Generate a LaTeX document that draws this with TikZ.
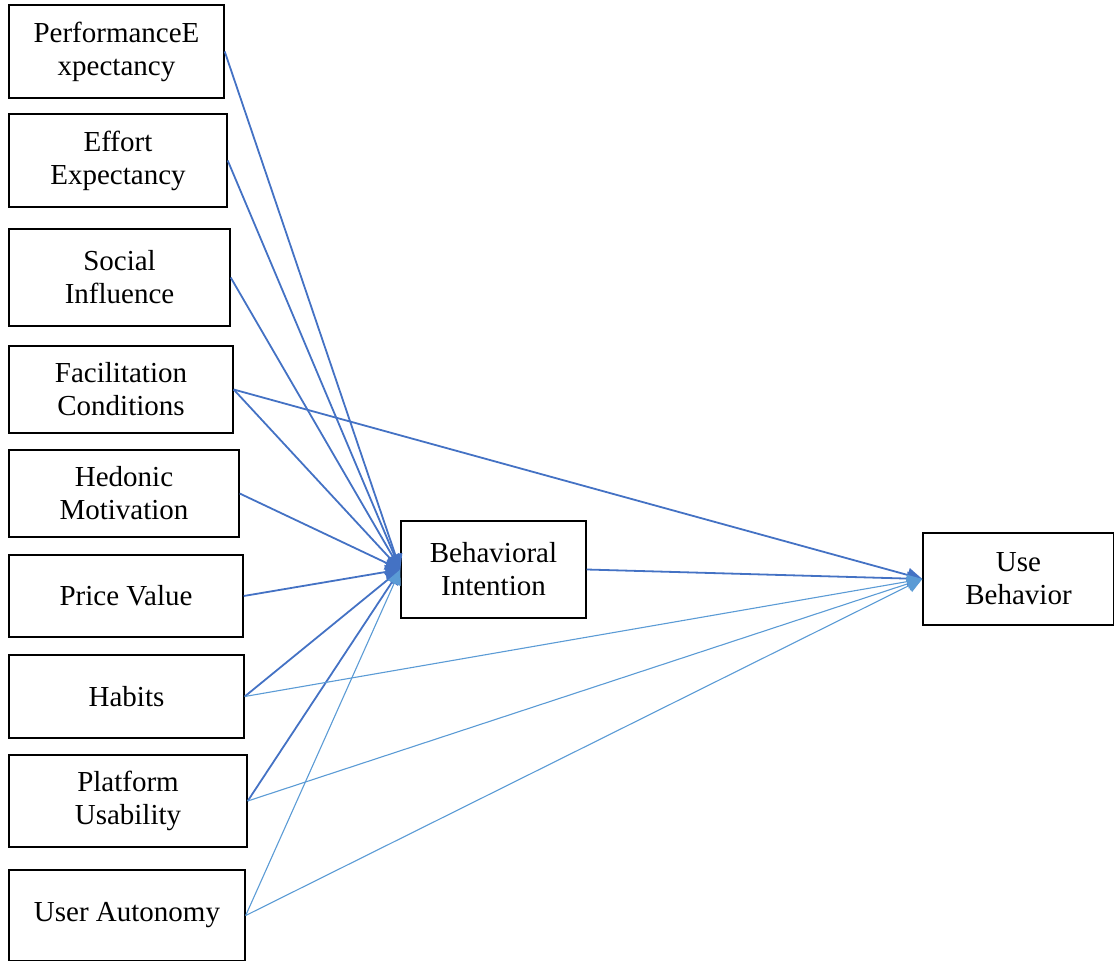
\documentclass[tikz,border=0pt]{standalone}
\usepackage{fontspec}
\setmainfont{Liberation Serif}
\usetikzlibrary{arrows.meta}
\definecolor{dkblue}{HTML}{4472C4}
\definecolor{ltblue}{HTML}{5B9BD5}
\begin{document}
\begin{tikzpicture}[x=1pt,y=-1pt,
  box/.style={draw=black, line width=1.4pt, inner sep=0pt, align=center,
    font=\fontsize{29}{33}\selectfont},
  dk/.style={draw=dkblue, line width=1.8pt, -{Triangle[length=15pt,width=14pt]}},
  lt/.style={draw=ltblue, line width=1.1pt, -{Triangle[length=15pt,width=14pt]}}]
\useasboundingbox (0,0) rectangle (1114,961);
\node[box, minimum width=215pt, minimum height=93pt] (pe) at (116.5,51.5) {PerformanceE\\xpectancy};
\node[box, minimum width=218pt, minimum height=93pt] (ee) at (118,160.5) {Effort\\Expectancy};
\node[box, minimum width=221pt, minimum height=97pt] (si) at (119.5,277.5) {Social\\Influence};
\node[box, minimum width=224pt, minimum height=87pt] (fc) at (121,389.5) {Facilitation\\Conditions};
\node[box, minimum width=230pt, minimum height=87pt] (hm) at (124,493.5) {Hedonic\\Motivation};
\node[box, minimum width=234pt, minimum height=82pt] (pv) at (126,596) {Price Value};
\node[box, minimum width=235pt, minimum height=83pt] (hb) at (126.5,696.5) {Habits};
\node[box, minimum width=238pt, minimum height=92pt] (pu) at (128,801) {Platform\\Usability};
\node[box, minimum width=236pt, minimum height=91pt] (ua) at (127,915.5) {User Autonomy};
\node[box, minimum width=185pt, minimum height=97pt] (bi) at (493.5,569.5) {Behavioral\\Intention};
\node[box, minimum width=191pt, minimum height=92pt] (ub) at (1018.5,579) {Use\\Behavior};
% to Behavioral Intention
\draw[dk] (pe.east) -- (bi.west);
\draw[dk] (ee.east) -- (bi.west);
\draw[dk] (si.east) -- (bi.west);
\draw[dk] (fc.east) -- (bi.west);
\draw[dk] (hm.east) -- (bi.west);
\draw[dk] (pv.east) -- (bi.west);
\draw[dk] (hb.east) -- (bi.west);
\draw[dk] (pu.east) -- (bi.west);
\draw[lt] (ua.east) -- (bi.west);
% to Use Behavior
\draw[dk] (fc.east) -- (ub.west);
\draw[dk] (bi.east) -- (ub.west);
\draw[lt] (hb.east) -- (ub.west);
\draw[lt] (pu.east) -- (ub.west);
\draw[lt] (ua.east) -- (ub.west);
\end{tikzpicture}
\end{document}
